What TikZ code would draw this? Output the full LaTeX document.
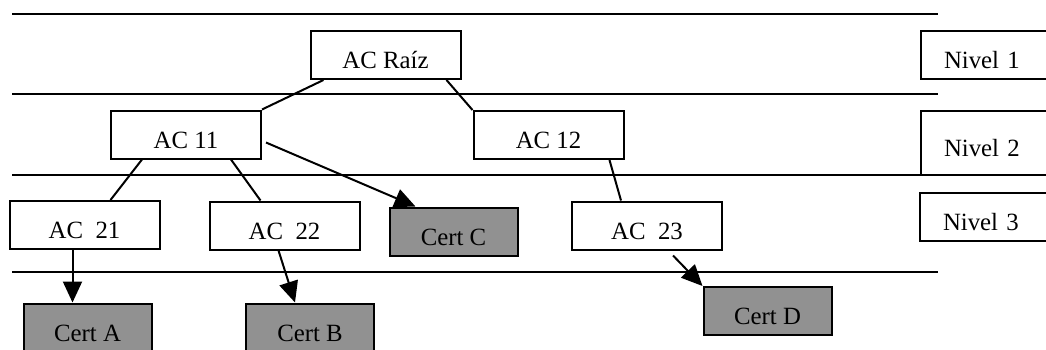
\documentclass[tikz,border=0pt]{standalone}
\usepackage{fontspec}
\setmainfont{Liberation Serif}
\usepackage{tikz}
\usetikzlibrary{arrows.meta, positioning}
\tikzstyle{ca}    = [rectangle, draw=black, line width=1pt, fill=white,
                     minimum width=75pt, minimum height=24pt, inner sep=0pt,
                     text height=13.5pt, text depth=0pt,
                     text centered, font=\fontsize{12.4}{14}\selectfont]
\tikzstyle{cert}  = [ca, fill=black!43, minimum width=64pt]
\tikzstyle{nivel} = [ca, minimum width=80pt, text width=57pt, align=left,
                     inner xsep=11.5pt, anchor=west]
\tikzstyle{link}  = [line width=1pt]
\tikzstyle{arrow} = [line width=1pt, -{Triangle[length=10.5pt, width=9.5pt]}]
\tikzstyle{sep}   = [line width=1pt]

\begin{document}
\begin{tikzpicture}[x=0.5pt, y=-0.5pt]

    \path[use as bounding box, fill=white] (0,0) rectangle (1046,349);
    \clip (0,0) rectangle (1046,349);

    % ── Level separators ────────────────────────────────────────────────────
    \draw [sep] (12,14)  -- (938,14);
    \draw [sep] (12,94)  -- (938,94);
    \draw [sep] (12,175) -- (1046,175);
    \draw [sep] (12,272) -- (938,272);

    % ── Certification authorities ───────────────────────────────────────────
    \node (raiz) [ca] at (385.5,55)  {AC Raíz};
    \node (ac11) [ca] at (186,134.5) {AC 11};
    \node (ac12) [ca] at (548.5,135) {AC 12};
    \node (ac21) [ca] at (84.5,225)  {AC~~21};
    \node (ac22) [ca] at (284.5,225.5) {AC~~22};
    \node (ac23) [ca] at (647,225.5) {AC~~23};

    % ── Certificates ────────────────────────────────────────────────────────
    \node (certc) [cert] at (453.5,231.5) {Cert C};
    \node (certa) [cert] at (87.5,327.5)  {Cert A};
    \node (certb) [cert] at (310,327.5)   {Cert B};
    \node (certd) [cert] at (767.5,311)   {Cert D};

    % ── Level labels ────────────────────────────────────────────────────────
    \node (niv1) [nivel] at (920,55)    {Nivel 1};
    \node (niv2) [nivel, minimum height=32pt] at (920,143) {Nivel 2};
    \node (niv3) [nivel] at (919,216.5) {Nivel 3};

    % ── Hierarchy links ─────────────────────────────────────────────────────
    \draw [link] ([xshift=7pt]raiz.south west)   -- (ac11.north east);
    \draw [link] ([xshift=-7.5pt]raiz.south east) -- (ac12.north west);
    \draw [link] ([xshift=16pt]ac11.south west)  -- ([xshift=13pt]ac21.north);
    \draw [link] ([xshift=-15.5pt]ac11.south east) -- ([xshift=-12pt]ac22.north);
    \draw [link] ([xshift=-7.5pt]ac12.south east) -- ([xshift=25pt]ac23.north west);

    % ── Issued certificates ─────────────────────────────────────────────────
    \draw [arrow] ([xshift=2pt, yshift=-4pt]ac11.east) -- ([xshift=13.5pt]certc.north west);
    \draw [arrow] ([xshift=-6pt]ac21.south) -- ([xshift=-6pt]ac21.south |- certa.north);
    \draw [arrow] ([xshift=-3pt]ac22.south) -- ([xshift=-7.5pt]certb.north);
    \draw [arrow] ([xshift=13pt, yshift=-2.5pt]ac23.south) -- (certd.north west);

\end{tikzpicture}
\end{document}
